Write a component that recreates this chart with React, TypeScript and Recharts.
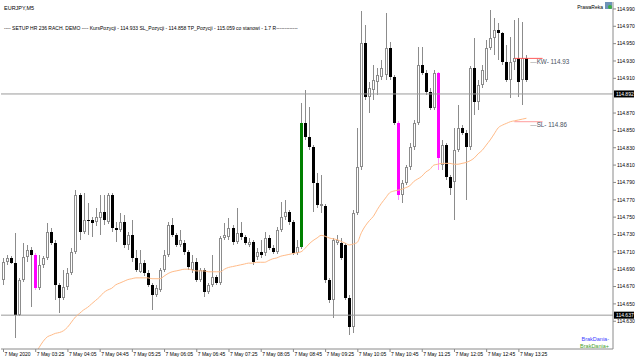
import { ComposedChart, Bar, Line, XAxis, YAxis, ReferenceLine } from "recharts";

// M5 candles (EURJPY, 7 May 2020 from 02:45)
const open = [114.678,114.698,114.703,114.697,114.637,114.678,114.704,114.712,114.706,114.668,
114.695,114.703,114.733,114.720,114.672,114.657,114.669,114.686,114.710,114.776,
114.733,114.747,114.747,114.744,114.749,114.756,114.744,114.776,114.737,114.735,
114.744,114.718,114.729,114.703,114.687,114.697,114.686,114.672,114.660,114.666,
114.689,114.706,114.741,114.729,114.718,114.720,114.710,114.689,114.698,114.678,
114.689,114.664,114.672,114.681,114.674,114.726,114.727,114.737,114.721,114.732,
114.727,114.718,114.721,114.704,114.710,114.709,114.726,114.714,114.710,114.735,
114.750,114.756,114.744,114.709,114.716,114.859,114.842,114.831,114.789,114.763,
114.763,114.678,114.654,114.720,114.720,114.718,114.657,114.623,114.755,114.808,
114.951,114.888,114.897,114.906,114.912,114.914,114.945,114.912,114.859,114.776,
114.789,114.808,114.831,114.859,114.925,114.916,114.894,114.876,114.916,114.810,
114.833,114.796,114.791,114.827,114.853,114.847,114.831,114.922,114.883,114.902,
114.908,114.945,114.957,114.966,114.962,114.929,114.908,114.929,114.933,114.908,114.933];

const high = [114.703,114.706,114.705,114.732,114.680,114.720,114.718,114.716,114.709,114.706,
114.705,114.743,114.737,114.724,114.674,114.689,114.691,114.714,114.781,114.778,
114.778,114.766,114.750,114.761,114.776,114.776,114.778,114.778,114.744,114.755,
114.752,114.733,114.747,114.712,114.712,114.701,114.689,114.674,114.672,114.691,
114.712,114.744,114.749,114.732,114.735,114.724,114.712,114.706,114.703,114.691,
114.691,114.674,114.706,114.683,114.728,114.743,114.749,114.741,114.761,114.744,
114.729,114.726,114.724,114.714,114.724,114.733,114.729,114.718,114.739,114.767,
114.770,114.758,114.747,114.724,114.882,114.897,114.877,114.833,114.801,114.799,
114.765,114.680,114.726,114.729,114.726,114.720,114.660,114.758,114.853,114.988,
114.971,114.906,114.925,114.922,114.931,114.985,114.952,114.914,114.861,114.793,
114.810,114.835,114.862,114.946,114.946,114.920,114.899,114.920,114.917,114.839,
114.835,114.799,114.853,114.879,114.856,114.850,114.924,114.957,114.908,114.925,
114.954,114.989,114.980,114.974,114.963,114.948,114.958,114.977,114.980,114.975,114.937];

const low = [114.672,114.695,114.696,114.611,114.636,114.675,114.698,114.646,114.666,114.666,
114.691,114.701,114.718,114.654,114.639,114.654,114.666,114.683,114.708,114.724,
114.731,114.729,114.727,114.740,114.729,114.741,114.742,114.733,114.721,114.733,
114.714,114.712,114.698,114.687,114.686,114.682,114.669,114.643,114.658,114.664,
114.687,114.704,114.727,114.716,114.716,114.706,114.689,114.686,114.675,114.675,
114.658,114.661,114.669,114.672,114.672,114.724,114.724,114.718,114.719,114.724,
114.718,114.716,114.695,114.701,114.703,114.705,114.712,114.708,114.708,114.733,
114.747,114.741,114.706,114.706,114.713,114.839,114.827,114.756,114.761,114.755,
114.674,114.651,114.634,114.718,114.701,114.654,114.614,114.616,114.752,114.804,
114.885,114.870,114.885,114.891,114.908,114.908,114.908,114.856,114.770,114.766,
114.787,114.804,114.827,114.856,114.914,114.891,114.874,114.874,114.804,114.804,
114.793,114.776,114.747,114.825,114.845,114.770,114.827,114.868,114.874,114.899,
114.906,114.943,114.937,114.931,114.925,114.906,114.887,114.920,114.888,114.879,114.906];

const close = [114.698,114.703,114.697,114.637,114.678,114.704,114.712,114.706,114.668,114.695,
114.703,114.733,114.720,114.672,114.657,114.669,114.686,114.710,114.776,114.733,
114.747,114.746,114.743,114.750,114.756,114.747,114.776,114.737,114.735,114.744,
114.718,114.729,114.703,114.689,114.697,114.686,114.672,114.660,114.668,114.689,
114.706,114.741,114.729,114.718,114.724,114.710,114.693,114.698,114.678,114.689,
114.664,114.672,114.681,114.674,114.726,114.729,114.737,114.721,114.732,114.727,
114.720,114.721,114.698,114.710,114.706,114.726,114.714,114.710,114.735,114.750,
114.756,114.744,114.709,114.716,114.859,114.842,114.831,114.789,114.764,114.765,
114.678,114.654,114.724,114.724,114.703,114.657,114.623,114.755,114.808,114.951,
114.888,114.899,114.908,114.914,114.922,114.945,114.912,114.859,114.776,114.789,
114.808,114.831,114.859,114.925,114.916,114.894,114.876,114.916,114.818,114.833,
114.796,114.784,114.827,114.853,114.847,114.831,114.922,114.883,114.902,114.920,
114.945,114.957,114.966,114.962,114.929,114.908,114.929,114.933,114.906,114.933,114.908];

// orange moving average
const ma = [null,null,null,null,null,null,null,null,114.593,114.600,
114.607,114.612,114.614,114.616,114.617,114.619,114.623,114.629,114.635,114.639,
114.643,114.646,114.650,114.654,114.658,114.663,114.666,114.668,114.672,114.674,
114.676,114.678,114.679,114.680,114.680,114.680,114.680,114.679,114.679,114.679,
114.682,114.685,114.687,114.688,114.689,114.690,114.690,114.689,114.688,114.688,
114.688,114.687,114.687,114.687,114.687,114.690,114.692,114.693,114.694,114.695,
114.696,114.697,114.697,114.698,114.698,114.698,114.700,114.702,114.703,114.705,
114.706,114.707,114.708,114.709,114.710,114.714,114.719,114.723,114.726,114.729,
114.728,114.726,114.725,114.724,114.722,114.720,114.718,114.719,114.721,114.732,
114.740,114.746,114.751,114.759,114.766,114.772,114.778,114.780,114.781,114.782,
114.784,114.786,114.791,114.794,114.797,114.802,114.805,114.810,114.811,114.812,
114.812,114.812,114.811,114.811,114.812,114.813,114.815,114.818,114.823,114.827,
114.833,114.839,114.846,114.853,114.856,114.858,114.860,114.861,114.862,114.863,114.864];

const timeTickIdx = [0, 8, 16, 24, 32, 40, 48, 56, 64, 72, 80, 88, 96, 104, 112, 120, 128];
const timeLabels = ["7 May 2020", "7 May 03:25", "7 May 04:05", "7 May 04:45", "7 May 05:25",
  "7 May 06:05", "7 May 06:45", "7 May 07:25", "7 May 08:05", "7 May 08:45", "7 May 09:25",
  "7 May 10:05", "7 May 10:45", "7 May 11:25", "7 May 12:05", "7 May 12:45", "7 May 13:25"];
const priceTicks = [114.63, 114.65, 114.67, 114.69, 114.71, 114.73, 114.75, 114.77, 114.79,
  114.81, 114.83, 114.85, 114.87, 114.91, 114.93, 114.95, 114.97, 114.99];

const magentaBars = [8, 98, 108];
const greenBars = [74];
const entryPrice = 114.933;
const stopPrice = 114.86;
const upperLevel = 114.892;
const lowerLevel = 114.637;
const slots = 152; // candles plus the empty shift on the right

const rows = Array.from({ length: slots }, (_, i) =>
  i < open.length
    ? { i, o: open[i], h: high[i], l: low[i], c: close[i], range: [low[i], high[i]], ma: ma[i] }
    : { i, range: null, ma: null }
);

const FONT = "Liberation Sans";
const FRAME = "#8a8a8a";
const WICK = "#8c8c8c";

const Candle = (props: any) => {
  const { x, y, width, height, payload } = props;
  if (!payload || payload.o == null || !isFinite(height)) return <g />;
  const { o, h, l, c, i } = payload;
  const k = height / (h - l);
  const py = (v: number) => y + (h - v) * k;
  const cx = Math.round(x + width / 2 - 0.5) + 0.5;
  const top = Math.round(py(Math.max(o, c)));
  const bot = Math.round(py(Math.min(o, c)));
  const hiY = Math.round(py(h));
  const loY = Math.round(py(l));
  const bull = c > o;
  let body = bull ? "#ffffff" : "#000000";
  let wick = WICK;
  if (magentaBars.includes(i)) { body = "#ff00ff"; wick = "#ff8cff"; }
  if (greenBars.includes(i)) body = "#008000";
  const special = body !== "#ffffff" && body !== "#000000";
  return (
    <g>
      <line x1={cx} x2={cx} y1={hiY} y2={loY} stroke={wick} strokeWidth={1} />
      {bull && !special ? (
        <rect x={cx - 1} y={top + 0.5} width={2} height={Math.max(bot - top - 1, 0)} fill="#fff" stroke={WICK} strokeWidth={1} />
      ) : (
        <rect x={cx - 1.5} y={top} width={3} height={Math.max(bot - top, 1)} fill={body} />
      )}
    </g>
  );
};

const TimeTick = (props: any) => {
  const { x, y, payload } = props;
  const label = timeLabels[timeTickIdx.indexOf(payload.value)];
  return (
    <g>
      <line x1={x + 0.5} x2={x + 0.5} y1={y} y2={y + 3} stroke={FRAME} />
      <text x={x + 1.5} y={y + 7} fontSize={5} fontFamily={FONT} fill="#000">{label}</text>
    </g>
  );
};

const LevelTag = (props: any) => {
  const vb = props.viewBox;
  const x = vb.x + vb.width + 1;
  return (
    <g>
      <rect x={x} y={vb.y - 3.5} width={20} height={7} fill="#000" />
      <text x={x + 2} y={vb.y + 2} fontSize={5} fontFamily={FONT} fill="#fff">{props.value.toFixed(3)}</text>
    </g>
  );
};

const PositionTag = (props: any) => {
  const vb = props.viewBox;
  return (
    <text x={vb.x + 16} y={vb.y + 5.5} fontSize={6.3} fontFamily={FONT} fill="#4a5262">
      <tspan fill="#999">—</tspan>{props.text}
    </text>
  );
};

export default function App() {
  return (
    <div style={{ position: "absolute", left: 0, top: 0, width: 640, height: 360, background: "#fff", fontFamily: FONT }}>
      <ComposedChart width={640} height={360} data={rows} margin={{ top: 2, right: 0, bottom: 0, left: 1 }}>
        <XAxis dataKey="i" type="category" height={11} ticks={timeTickIdx} interval={0} tickSize={0} tickMargin={0}
          tickLine={false} axisLine={{ stroke: FRAME }} tick={<TimeTick />} />
        <XAxis xAxisId="top" dataKey="i" orientation="top" height={0} tick={false} tickLine={false} axisLine={{ stroke: FRAME }} />
        <YAxis orientation="right" width={27} domain={[114.598, 114.998]} allowDataOverflow type="number"
          ticks={priceTicks} interval={0} tickSize={3} tickMargin={1}
          tickLine={{ stroke: FRAME }} axisLine={{ stroke: FRAME }}
          tick={{ fontSize: 5, fill: "#000", fontFamily: FONT }} tickFormatter={(v: number) => v.toFixed(3)} />
        <YAxis yAxisId="left" orientation="left" width={0} domain={[114.598, 114.998]} type="number"
          tick={false} tickLine={false} axisLine={{ stroke: FRAME }} />
        <ReferenceLine y={upperLevel} stroke="#9a9a9a" label={(p: any) => <LevelTag {...p} value={upperLevel} />} />
        <ReferenceLine y={lowerLevel} stroke="#9a9a9a" label={(p: any) => <LevelTag {...p} value={lowerLevel} />} />
        <Bar dataKey="range" barSize={3} shape={Candle} isAnimationActive={false} />
        <Line dataKey="ma" type="monotone" stroke="#ffbb88" strokeWidth={1} dot={false} activeDot={false} isAnimationActive={false} />
        <ReferenceLine segment={[{ x: 127, y: entryPrice }, { x: 134, y: entryPrice }]} stroke="#ff5a5a"
          label={(p: any) => <PositionTag {...p} text="KW- 114.93" />} />
        <ReferenceLine segment={[{ x: 127, y: stopPrice }, { x: 134, y: stopPrice }]} stroke="#ff9c9c"
          label={(p: any) => <PositionTag {...p} text="SL- 114.86" />} />
      </ComposedChart>
      <svg width={640} height={360} style={{ position: "absolute", left: 0, top: 0, pointerEvents: "none" }} fontFamily={FONT}>
        <text x={4} y={9.5} fontSize={5.5} fill="#000">EURJPY,M5</text>
        <text x={4} y={29.5} fontSize={5} fill="#000">
          ---- SETUP HR 236 RACH. DEMO ---- KursPozycji - 114.933 SL_Pozycji - 114.858  TP_Pozycji - 115.059 co stanowi - 1.7 R-------------
        </text>
        <text x={603} y={8.5} fontSize={5} fill="#000" textAnchor="end">PrawaReka</text>
        <rect x={605} y={2} width={7} height={7} fill="#6f93b8" />
        <circle cx={610} cy={7} r={2} fill="#3cb043" />
        <text x={609} y={341} fontSize={5.5} fill="#3d3dff" textAnchor="end">BrakDania-</text>
        <text x={609} y={347.5} fontSize={5.5} fill="#4aa02c" textAnchor="end">BrakDania+</text>
      </svg>
    </div>
  );
}
